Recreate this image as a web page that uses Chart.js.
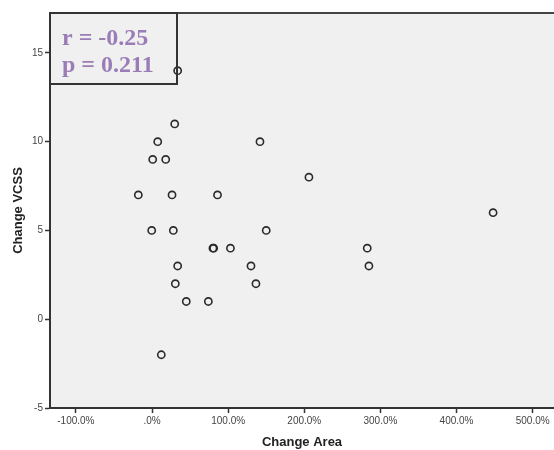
<!DOCTYPE html>
<html>
<head>
<meta charset="utf-8">
<script src="https://cdn.jsdelivr.net/npm/chart.js@4.4.1/dist/chart.umd.min.js"></script>
<style>
html,body{margin:0;padding:0;background:#fff;}
#wrap{position:relative;width:554px;height:450px;}
</style>
</head>
<body>
<div id="wrap"><canvas id="c" width="554" height="450"></canvas></div>
<script>
const changeArea = [33.7, 29.8, 7.5, 141.8, 0.9, 18.0, -18.0, 26.3, 86, 206.1, 448, -0.4, 28, 150, 80, 81, 103, 282.7, 33.7, 130, 284.9, 30.6, 136.5, 45, 74, 12.2];
const changeVCSS = [14, 11, 10, 10, 9, 9, 7, 7, 7, 8, 6, 5, 5, 5, 4, 4, 4, 4, 3, 3, 3, 2, 2, 1, 1, -2];
const xTicks = [-100, 0, 100, 200, 300, 400, 500];
const yTicks = [-5, 0, 5, 10, 15];
const statLines = ['r = -0.25', 'p = 0.211'];

const points = changeArea.map((x, i) => ({x: x, y: changeVCSS[i]}));

const bgPlugin = {
  id: 'bg',
  beforeDraw(chart) {
    const {ctx, chartArea: a} = chart;
    ctx.save();
    ctx.fillStyle = '#f0f0f0';
    ctx.fillRect(a.left, a.top, a.right - a.left, a.bottom - a.top);
    ctx.restore();
  },
  afterDraw(chart) {
    const {ctx, chartArea: a} = chart;
    ctx.save();
    ctx.strokeStyle = '#444';
    ctx.lineWidth = 2;
    ctx.beginPath();
    ctx.moveTo(a.left, a.top);
    ctx.lineTo(a.right, a.top);
    ctx.stroke();
    // stats box
    const bx = a.left, by = a.top, bw = 127, bh = 71;
    ctx.strokeStyle = '#333';
    ctx.strokeRect(bx, by, bw, bh);
    ctx.fillStyle = '#9a7db6';
    ctx.font = 'bold 24px "Liberation Serif", "Times New Roman", serif';
    ctx.textBaseline = 'alphabetic';
    ctx.textAlign = 'left';
    ctx.fillText(statLines[0], bx + 12, by + 32);
    ctx.fillText(statLines[1], bx + 12, by + 59);
    ctx.restore();
  }
};

new Chart(document.getElementById('c'), {
  type: 'scatter',
  data: {
    datasets: [{
      data: points,
      pointRadius: 3.6,
      pointHoverRadius: 3.6,
      pointBorderWidth: 1.6,
      borderColor: '#2a2a2a',
      backgroundColor: 'rgba(0,0,0,0)',
      pointBackgroundColor: 'rgba(0,0,0,0)'
    }]
  },
  options: {
    responsive: false,
    animation: false,
    devicePixelRatio: 1,
    layout: {autoPadding: false, padding: {top: 13, right: 0, left: 0, bottom: 0}},
    plugins: {legend: {display: false}, tooltip: {enabled: false}},
    scales: {
      x: {
        type: 'linear',
        min: -134,
        max: 528,
        afterBuildTicks(s) { s.ticks = xTicks.map(v => ({value: v})); },
        afterFit(s) { s.height = 42; s.paddingRight = 0; s.paddingLeft = 0; },
        border: {color: '#333', width: 2},
        grid: {display: true, drawOnChartArea: false, drawTicks: true, tickLength: 5, tickColor: '#333', tickWidth: 1.5},
        ticks: {
          color: '#444',
          font: {family: '"Liberation Sans", Arial, sans-serif', size: 10},
          padding: 2,
          maxRotation: 0,
          callback: v => v === 0 ? '.0%' : v.toFixed(1) + '%'
        },
        title: {
          display: true, text: 'Change Area', color: '#222',
          font: {family: '"Liberation Sans", Arial, sans-serif', size: 13, weight: 'bold'},
          padding: {top: 6, bottom: 0}
        }
      },
      y: {
        type: 'linear',
        min: -5,
        max: 17.25,
        afterBuildTicks(s) { s.ticks = yTicks.map(v => ({value: v})); },
        afterFit(s) { s.width = 50; s.paddingTop = 0; s.paddingBottom = 0; },
        border: {color: '#333', width: 2},
        grid: {display: true, drawOnChartArea: false, drawTicks: true, tickLength: 5, tickColor: '#333', tickWidth: 1.5},
        ticks: {
          color: '#444',
          font: {family: '"Liberation Sans", Arial, sans-serif', size: 10},
          padding: 2
        },
        title: {
          display: true, text: 'Change VCSS', color: '#222',
          font: {family: '"Liberation Sans", Arial, sans-serif', size: 13, weight: 'bold'},
          padding: {top: 11, bottom: 0}
        }
      }
    }
  },
  plugins: [bgPlugin]
});
</script>
</body>
</html>
